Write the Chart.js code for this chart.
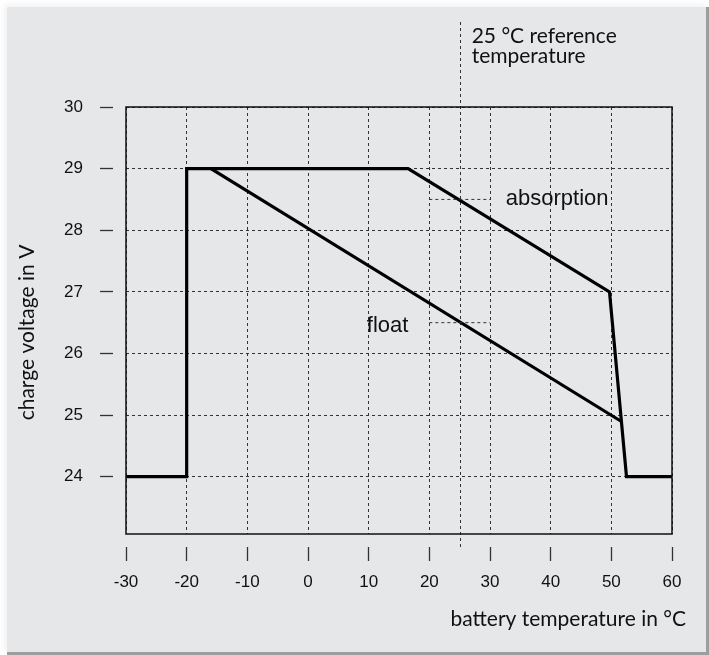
<!DOCTYPE html>
<html>
<head>
<meta charset="utf-8">
<script src="https://cdn.jsdelivr.net/npm/chart.js@4.4.1/dist/chart.umd.min.js"></script>
<style>
    html, body { margin: 0; padding: 0; background: #fff; }
    #panel {
        position: absolute; left: 7px; top: 7px; width: 699px; height: 645px;
        background: #e6e7e9;
        border-right: 3px solid #9d9d9d; border-bottom: 3px solid #9d9d9d;
        box-shadow: -3px -3px 5px rgba(0, 0, 0, 0.05);
    }
    #wrap { position: absolute; left: 0; top: 0; width: 709px; height: 655px; }
</style>
</head>
<body>
<div id="panel"></div>
<div id="wrap"><canvas id="chart"></canvas></div>
<script>
// valori
const xTicks = [-30, -20, -10, 0, 10, 20, 30, 40, 50, 60];
const yTicks = [24, 25, 26, 27, 28, 29, 30];

const absorptionTemp = [-30, -20, -20, 16.5, 49.7, 52.5, 60];
const absorptionVolt = [24, 24, 29, 29, 27, 24, 24];

const floatTemp = [-16, 51.6];
const floatVolt = [29, 24.9];

// liniile scurte punctate de langa etichete
const leaderTemp = [20, 30];
const absorptionLeaderVolt = [28.5, 28.5];
const floatLeaderVolt = [26.5, 26.5];

const refTemp = 25;

const toPoints = (xs, ys) => xs.map((x, i) => ({ x: x, y: ys[i] }));

const GRID = '#333';
const DASH = [3, 3];
const TICK_FONT = { family: '"Liberation Sans", Arial, sans-serif', size: 17 };
const TITLE_FONT = '21px Lato, "DejaVu Sans", sans-serif';
const LABEL_FONT = '22px "Liberation Sans", Arial, sans-serif';

const decor = {
    id: 'decor',
    beforeDatasetsDraw(chart) {
        const { ctx, chartArea: a, scales: { x } } = chart;
        const rx = Math.round(x.getPixelForValue(refTemp)) + 0.5;
        ctx.save();
        ctx.strokeStyle = GRID;
        ctx.lineWidth = 1;
        ctx.setLineDash(DASH);
        ctx.beginPath();
        ctx.moveTo(rx, a.top - 85);
        ctx.lineTo(rx, a.bottom + 16);
        ctx.stroke();
        ctx.restore();
    },
    afterDatasetsDraw(chart) {
        const { ctx, chartArea: a, scales: { x, y } } = chart;
        ctx.save();
        // rama
        ctx.strokeStyle = '#111';
        ctx.lineWidth = 1.5;
        ctx.strokeRect(a.left, a.top, a.right - a.left, a.bottom - a.top);

        ctx.fillStyle = '#111';
        ctx.textBaseline = 'middle';

        // eticheta temperaturii de referinta
        ctx.font = TITLE_FONT;
        ctx.textAlign = 'left';
        const rx = x.getPixelForValue(refTemp) + 12;
        ctx.fillText('25 °C reference', rx, a.top - 71);
        ctx.fillText('temperature', rx, a.top - 51);

        // titlul axei x
        ctx.textAlign = 'right';
        ctx.fillText('battery temperature in °C', a.right + 14, a.bottom + 85);

        // titlul axei y
        ctx.save();
        ctx.translate(a.left - 99, (a.top + a.bottom) / 2 + 12);
        ctx.rotate(-Math.PI / 2);
        ctx.textAlign = 'center';
        ctx.fillText('charge voltage in V', 0, 0);
        ctx.restore();

        // etichetele curbelor
        ctx.font = LABEL_FONT;
        ctx.textAlign = 'left';
        ctx.fillText('absorption', x.getPixelForValue(32.6), y.getPixelForValue(28.5));
        ctx.fillText('float', x.getPixelForValue(9.7), y.getPixelForValue(26.5) + 3);
        ctx.restore();
    }
};

const lineStyle = { showLine: true, pointRadius: 0, borderColor: '#000', borderWidth: 3.2, borderJoinStyle: 'miter', fill: false };
const leaderStyle = { showLine: true, pointRadius: 0, borderColor: GRID, borderWidth: 1, borderDash: DASH, fill: false };

new Chart(document.getElementById('chart'), {
    type: 'scatter',
    data: {
        datasets: [
            { label: 'absorption leader', data: toPoints(leaderTemp, absorptionLeaderVolt), ...leaderStyle },
            { label: 'float leader', data: toPoints(leaderTemp, floatLeaderVolt), ...leaderStyle },
            { label: 'float', data: toPoints(floatTemp, floatVolt), ...lineStyle },
            { label: 'absorption', data: toPoints(absorptionTemp, absorptionVolt), ...lineStyle }
        ]
    },
    options: {
        responsive: true, maintainAspectRatio: false,
        animation: false,
        devicePixelRatio: 1,
        layout: { padding: { left: 0, top: 107, right: 37, bottom: 0 } },
        plugins: { legend: { display: false }, tooltip: { enabled: false } },
        scales: {
            x: {
                type: 'linear', position: 'bottom', min: -30, max: 60,
                afterFit: s => { s.height = 121; },
                afterBuildTicks: s => { s.ticks = xTicks.map(v => ({ value: v })); },
                border: { display: false, dash: DASH },
                grid: {
                    color: GRID, lineWidth: 1,
                    tickLength: 27, tickColor: '#333', tickWidth: 1.3,
                    tickBorderDash: [14, 13], tickBorderDashOffset: 14
                },
                ticks: { color: '#111', font: TICK_FONT, padding: 11, maxRotation: 0, autoSkip: false, callback: v => String(v) }
            },
            y: {
                type: 'linear', position: 'left', min: 23.07, max: 30,
                afterFit: s => { s.width = 126; },
                afterBuildTicks: s => { s.ticks = yTicks.map(v => ({ value: v })); },
                border: { display: false, dash: DASH },
                grid: {
                    color: GRID, lineWidth: 1,
                    tickLength: 26, tickColor: '#333', tickWidth: 1.3,
                    tickBorderDash: [13, 13]
                },
                ticks: { color: '#111', font: TICK_FONT, padding: 17, autoSkip: false, callback: v => String(v) }
            }
        }
    },
    plugins: [decor]
});
</script>
</body>
</html>
